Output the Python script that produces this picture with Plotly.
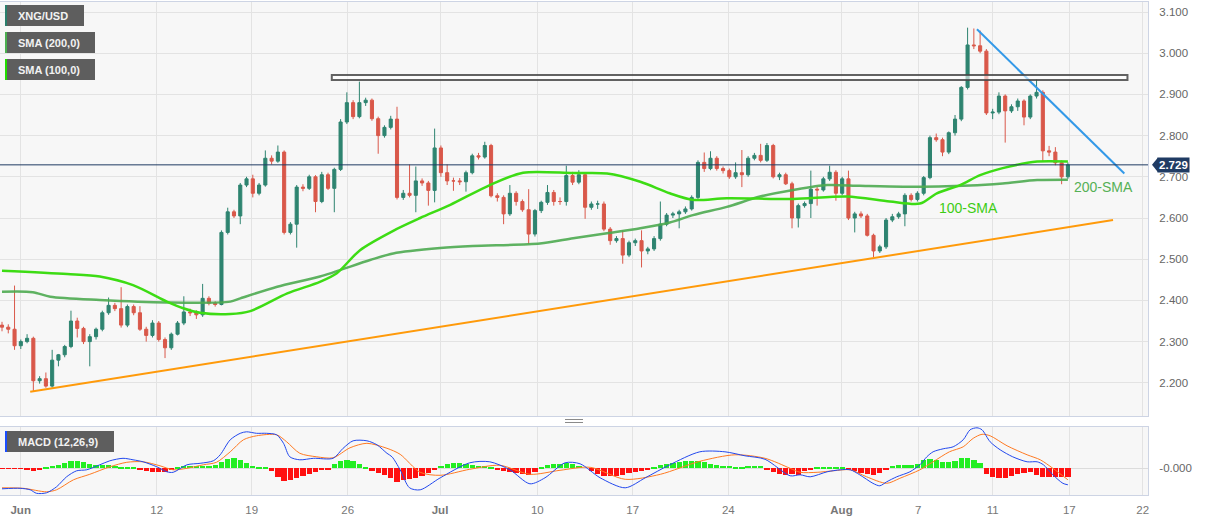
import plotly.graph_objects as go

# ---------------- data (index = candle number) ----------------
opens = [
    2.340, 2.335, 2.330, 2.290, 2.300, 2.308, 2.205, 2.210, 2.192, 2.255,
    2.268, 2.288, 2.350, 2.332, 2.300, 2.312, 2.330, 2.370, 2.388, 2.380,
    2.340, 2.385, 2.370, 2.330, 2.315, 2.345, 2.305, 2.285, 2.318, 2.345,
    2.372, 2.370, 2.365, 2.405, 2.393, 2.390, 2.565, 2.615, 2.605, 2.680,
    2.695, 2.660, 2.680, 2.745, 2.738, 2.760, 2.565, 2.585, 2.675, 2.672,
    2.700, 2.640, 2.705, 2.672, 2.718, 2.833, 2.880, 2.846, 2.880, 2.886,
    2.841, 2.800, 2.820, 2.840, 2.650, 2.660, 2.655, 2.690, 2.685, 2.667,
    2.770, 2.710, 2.690, 2.690, 2.688, 2.710, 2.751, 2.748, 2.776, 2.654,
    2.650, 2.610, 2.660, 2.640, 2.620, 2.561, 2.618, 2.638, 2.662, 2.640,
    2.640, 2.703, 2.687, 2.705, 2.626, 2.634, 2.634, 2.573, 2.545, 2.550,
    2.510, 2.540, 2.545, 2.520, 2.525, 2.550, 2.585, 2.607, 2.610, 2.615,
    2.622, 2.650, 2.735, 2.720, 2.745, 2.720, 2.715, 2.700, 2.710, 2.705,
    2.745, 2.752, 2.740, 2.776, 2.700, 2.705, 2.683, 2.600, 2.630, 2.635,
    2.670, 2.668, 2.695, 2.711, 2.660, 2.695, 2.600, 2.610, 2.605, 2.558,
    2.520, 2.530, 2.595, 2.603, 2.610, 2.655, 2.645, 2.660, 2.698, 2.795,
    2.790, 2.760, 2.807, 2.840, 2.917, 3.020, 3.018, 3.005, 2.855, 2.857,
    2.896, 2.860, 2.870, 2.884, 2.845, 2.896, 2.905, 2.763, 2.760, 2.734,
    2.700]
highs = [
    2.348, 2.342, 2.436, 2.305, 2.318, 2.312, 2.216, 2.225, 2.280, 2.270,
    2.292, 2.375, 2.358, 2.336, 2.318, 2.334, 2.375, 2.407, 2.394, 2.432,
    2.390, 2.390, 2.386, 2.336, 2.352, 2.350, 2.310, 2.322, 2.350, 2.410,
    2.380, 2.376, 2.440, 2.410, 2.398, 2.570, 2.625, 2.620, 2.685, 2.700,
    2.705, 2.685, 2.764, 2.752, 2.776, 2.764, 2.590, 2.680, 2.682, 2.705,
    2.704, 2.712, 2.710, 2.722, 2.840, 2.905, 2.886, 2.931, 2.892, 2.890,
    2.846, 2.825, 2.848, 2.870, 2.668, 2.730, 2.725, 2.696, 2.690, 2.817,
    2.776, 2.730, 2.698, 2.697, 2.715, 2.756, 2.758, 2.785, 2.780, 2.660,
    2.655, 2.680, 2.665, 2.645, 2.670, 2.622, 2.642, 2.680, 2.668, 2.650,
    2.727, 2.712, 2.716, 2.710, 2.640, 2.642, 2.640, 2.578, 2.556, 2.570,
    2.545, 2.550, 2.570, 2.530, 2.556, 2.640, 2.612, 2.615, 2.620, 2.628,
    2.655, 2.740, 2.759, 2.762, 2.750, 2.725, 2.720, 2.735, 2.765, 2.750,
    2.758, 2.780, 2.782, 2.780, 2.710, 2.710, 2.688, 2.635, 2.640, 2.715,
    2.675, 2.700, 2.727, 2.716, 2.700, 2.715, 2.615, 2.616, 2.610, 2.562,
    2.535, 2.600, 2.610, 2.615, 2.660, 2.660, 2.665, 2.702, 2.800, 2.805,
    2.795, 2.810, 2.850, 2.920, 3.062, 3.060, 3.055, 3.010, 2.865, 2.905,
    2.900, 2.876, 2.890, 2.888, 2.900, 2.937, 2.910, 2.775, 2.772, 2.740,
    2.735]
lows = [
    2.325, 2.320, 2.280, 2.282, 2.296, 2.178, 2.198, 2.188, 2.188, 2.240,
    2.262, 2.284, 2.310, 2.294, 2.240, 2.305, 2.325, 2.365, 2.374, 2.334,
    2.335, 2.364, 2.326, 2.300, 2.310, 2.300, 2.260, 2.280, 2.315, 2.340,
    2.362, 2.355, 2.360, 2.388, 2.385, 2.388, 2.560, 2.600, 2.585, 2.675,
    2.650, 2.655, 2.676, 2.730, 2.734, 2.560, 2.560, 2.528, 2.665, 2.668,
    2.614, 2.636, 2.668, 2.614, 2.714, 2.828, 2.840, 2.842, 2.872, 2.836,
    2.756, 2.795, 2.815, 2.645, 2.644, 2.650, 2.614, 2.678, 2.630, 2.638,
    2.700, 2.680, 2.666, 2.680, 2.664, 2.706, 2.742, 2.744, 2.650, 2.640,
    2.585, 2.605, 2.630, 2.615, 2.537, 2.555, 2.612, 2.632, 2.630, 2.632,
    2.630, 2.680, 2.682, 2.598, 2.620, 2.622, 2.568, 2.535, 2.540, 2.489,
    2.505, 2.532, 2.480, 2.512, 2.520, 2.545, 2.580, 2.600, 2.575, 2.610,
    2.618, 2.646, 2.712, 2.716, 2.715, 2.708, 2.695, 2.695, 2.675, 2.700,
    2.740, 2.735, 2.736, 2.696, 2.692, 2.680, 2.575, 2.577, 2.625, 2.600,
    2.630, 2.664, 2.690, 2.642, 2.655, 2.595, 2.565, 2.600, 2.555, 2.505,
    2.515, 2.525, 2.590, 2.598, 2.580, 2.640, 2.640, 2.655, 2.694, 2.785,
    2.750, 2.755, 2.800, 2.835, 2.912, 3.010, 3.000, 2.850, 2.840, 2.852,
    2.783, 2.855, 2.860, 2.825, 2.840, 2.890, 2.738, 2.750, 2.728, 2.682,
    2.695]
closes = [
    2.335, 2.330, 2.290, 2.300, 2.308, 2.205, 2.210, 2.192, 2.255, 2.268,
    2.288, 2.350, 2.332, 2.300, 2.312, 2.330, 2.370, 2.388, 2.380, 2.340,
    2.385, 2.370, 2.330, 2.315, 2.345, 2.305, 2.285, 2.318, 2.345, 2.372,
    2.370, 2.365, 2.405, 2.393, 2.390, 2.565, 2.615, 2.605, 2.680, 2.695,
    2.660, 2.680, 2.745, 2.738, 2.760, 2.565, 2.585, 2.675, 2.672, 2.700,
    2.640, 2.705, 2.672, 2.718, 2.833, 2.880, 2.846, 2.880, 2.886, 2.841,
    2.800, 2.820, 2.840, 2.650, 2.660, 2.655, 2.690, 2.685, 2.667, 2.770,
    2.710, 2.690, 2.690, 2.688, 2.710, 2.751, 2.748, 2.776, 2.654, 2.650,
    2.610, 2.660, 2.640, 2.620, 2.561, 2.618, 2.638, 2.662, 2.640, 2.640,
    2.703, 2.687, 2.705, 2.626, 2.634, 2.634, 2.573, 2.545, 2.550, 2.510,
    2.540, 2.545, 2.520, 2.525, 2.550, 2.585, 2.607, 2.610, 2.615, 2.622,
    2.650, 2.735, 2.720, 2.745, 2.720, 2.715, 2.700, 2.710, 2.705, 2.745,
    2.752, 2.740, 2.776, 2.700, 2.705, 2.683, 2.600, 2.630, 2.635, 2.670,
    2.668, 2.695, 2.711, 2.660, 2.695, 2.600, 2.610, 2.605, 2.558, 2.520,
    2.530, 2.595, 2.603, 2.610, 2.655, 2.645, 2.660, 2.698, 2.795, 2.790,
    2.760, 2.807, 2.840, 2.917, 3.020, 3.018, 3.005, 2.855, 2.857, 2.896,
    2.860, 2.870, 2.884, 2.845, 2.896, 2.905, 2.763, 2.760, 2.734, 2.700,
    2.729]
candle_idx = list(range(len(closes)))

sma100_x = [0, 10.4, 15.6, 20.9, 26.3, 28.9, 31.6, 36.4, 39.6, 45.5,
            50.7, 53.4, 57.1, 62.4, 66.7, 71.5, 77.8, 83.1, 91.1, 96.5,
            101.8, 106.5, 110.2, 115.6, 126.2, 134.8, 141.6, 146.4, 149.1, 152.8,
            156.0, 159.6, 165.1, 170]
sma100_v = [2.472, 2.464, 2.458, 2.437, 2.397, 2.381, 2.370, 2.367, 2.374, 2.417,
            2.445, 2.466, 2.522, 2.569, 2.600, 2.632, 2.680, 2.710, 2.709, 2.708,
            2.688, 2.660, 2.644, 2.648, 2.646, 2.652, 2.640, 2.635, 2.660, 2.680,
            2.704, 2.721, 2.737, 2.737]
sma200_x = [0, 4.9, 7.7, 15.6, 26.3, 36.4, 38.0, 43.9, 50.7, 58.7,
            62.4, 69.9, 75.1, 85.8, 91.1, 96.5, 101.8, 106.5, 110.2, 115.6,
            120.9, 126.2, 131.6, 136.8, 143.7, 154.4, 159.6, 165.1, 170]
sma200_v = [2.421, 2.420, 2.409, 2.401, 2.395, 2.397, 2.405, 2.433, 2.458, 2.498,
            2.514, 2.527, 2.532, 2.538, 2.551, 2.563, 2.575, 2.589, 2.607, 2.627,
            2.652, 2.668, 2.680, 2.678, 2.676, 2.679, 2.684, 2.692, 2.693]

support_x = [4.5, 177.2]
support_y = [2.178, 2.595]
resist_x = [155.5, 179.0]
resist_y = [3.058, 2.708]
zone_x = [52.6, 179.5]
zone_y = [2.935, 2.947]
last_price = 2.729

# MACD (values in 1e-3)
macd_x = [0, 2.9, 4.5, 5.5, 7.1, 8.7, 10.3, 11.9, 13.5, 15.6,
          17.2, 19.3, 20.9, 22.5, 24.7, 26.3, 27.3, 29.5, 31.6, 33.7,
          34.8, 36.4, 38, 39, 40.6, 42.2, 43.8, 44.9, 45.9, 47.5,
          49.7, 52.8, 54.4, 56, 58.2, 59.8, 61.4, 62.2, 63.5, 65,
          66.7, 69.9, 74.6, 77.8, 81, 84.2, 86.6, 89.8, 92.2, 95.4,
          99.4, 102.6, 106.5, 111.3, 115.3, 118.5, 121.7, 125.7, 127.3, 128.9,
          131.6, 133.7, 135.3, 136.8, 138.9, 140, 141.1, 142.7, 144.8, 146.4,
          147.5, 148.5, 150.1, 151.7, 153.3, 154.4, 155.5, 156.3, 157.6, 159.2,
          161.2, 163.5, 165.1, 166.1, 167.6, 169.2, 170]
macd_v = [-41, -40, -43, -50, -49, -37, -17, -5, -3, 7,
          15, 20, 17, 13, 3, -7, -8, 7, 10, 15,
          27, 57, 70, 73, 70, 70, 67, 50, 23, 17,
          20, 20, 40, 55, 55, 47, 30, 23, -3, -39,
          -43, -19, 11, 13, -3, -31, -19, 11, 9, -19,
          -39, -19, 7, 33, 33, 25, 18, -15, -13, -17,
          -7, -3, -3, -13, -30, -35, -27, -17, -7, 7,
          23, 33, 39, 43, 57, 77, 81, 77, 53, 37,
          23, 13, 13, 7, -13, -30, -33]
signal_x = [0, 3.4, 7.1, 8.7, 11.4, 14, 17.2, 19.9, 22.5, 25.2,
            27.3, 29.5, 32.1, 34.2, 36.4, 38.5, 40.6, 43.8, 45.4, 47.5,
            50.2, 52.8, 55.5, 58.2, 61.4, 63.5, 66.7, 69.9, 74.6, 79.4,
            84.2, 89, 93.8, 99.4, 105, 111.3, 116.9, 121.7, 125.7, 127.3,
            130, 132.6, 135.3, 137.9, 141.1, 143.2, 146.4, 148.5, 151.1, 153.3,
            154.9, 156.3, 157.6, 160.3, 163.5, 165.6, 167.6, 170]
signal_v = [-39, -40, -47, -43, -23, -12, 3, 12, 13, 5,
            -3, 0, 7, 12, 33, 57, 65, 67, 53, 30,
            23, 21, 41, 50, 40, 28, -8, -14, -2, 6,
            -12, -4, 2, -22, -12, 14, 27, 20, 0, -8,
            -8, -5, -3, -17, -30, -20, -3, 13, 33, 43,
            60, 68, 65, 45, 27, 17, 0, -23]
hist = [
    -1, -1, -1, -1, -4, -5, -4, 2, 5, 7,
    10, 14, 15, 12, 8, 7, 6, 6, 5, 3,
    2, 1, -2, -5, -7, -8, -7, -3, 3, 5,
    5, 5, 4, 5, 6, 12, 19, 21, 17, 10,
    4, 3, 2, -5, -18, -25, -24, -20, -15, -12,
    -8, -4, -2, 8, 15, 17, 14, 8, 3, -5,
    -10, -14, -20, -27, -24, -22, -20, -15, -10, -3,
    4, 8, 10, 10, 9, 7, 5, 4, 2, -2,
    -6, -8, -10, -12, -13, -8, 2, 7, 9, 9,
    10, 8, 5, 0, -6, -12, -15, -16, -15, -13,
    -10, -7, -5, -2, 3, 6, 8, 10, 12, 14,
    15, 14, 12, 9, 7, 5, 4, 3, 3, 4,
    5, 4, -2, -8, -12, -13, -12, -13, -5, -2,
    1, 2, 3, 3, 2, -2, -6, -10, -12, -13,
    -10, -4, 5, 6, 7, 7, 8, 17, 19, 16,
    13, 12, 14, 20, 21, 17, 10, -12, -18, -20,
    -19, -15, -12, -9, -8, -14, -17, -18, -18, -18,
    -18]

tick_pos = [2.98, 24.67, 39.82, 55.14, 69.86, 85.38, 100.59, 115.84, 133.89, 146.14, 158.0, 170.22, 181.93]
tick_lbl = ["Jun", "12", "19", "26", "Jul", "10", "17", "24", "Aug", "7", "11", "17", "22"]
price_ticks = [2.2, 2.3, 2.4, 2.5, 2.6, 2.7, 2.8, 2.9, 3.0, 3.1]

# ---------------- layout helpers ----------------
W, H = 1207, 521
PL, PR, PT, PB = 0, 1148, 2, 495
def px(x):
    return (x - PL) / (PR - PL)
def py(y):
    return (PB - y) / (PB - PT)

FONT = "Arial, Liberation Sans, sans-serif"
GRID = "#e3e3e3"
BORDER = "#cdd4e4"

fig = go.Figure()

fig.add_trace(go.Candlestick(
    x=candle_idx, open=opens, high=highs, low=lows, close=closes,
    increasing=dict(line=dict(color="#2e8470", width=1), fillcolor="#2e8470"),
    decreasing=dict(line=dict(color="#d9584a", width=1), fillcolor="#d9584a"),
    whiskerwidth=0, showlegend=False, xaxis="x", yaxis="y"))

fig.add_trace(go.Scatter(x=sma200_x, y=sma200_v, mode="lines",
                         line=dict(color="rgba(76,170,80,0.9)", width=2.5, shape="spline", smoothing=0.8),
                         showlegend=False, xaxis="x", yaxis="y"))
fig.add_trace(go.Scatter(x=sma100_x, y=sma100_v, mode="lines",
                         line=dict(color="#3ddc14", width=2.5, shape="spline", smoothing=0.8),
                         showlegend=False, xaxis="x", yaxis="y"))
fig.add_trace(go.Scatter(x=support_x, y=support_y, mode="lines",
                         line=dict(color="#ff9a0a", width=2), showlegend=False, xaxis="x", yaxis="y"))
fig.add_trace(go.Scatter(x=resist_x, y=resist_y, mode="lines",
                         line=dict(color="#3399e8", width=2), showlegend=False, xaxis="x", yaxis="y"))

# MACD panel
fig.add_trace(go.Bar(x=candle_idx, y=hist,
                     marker=dict(color=["#22ee22" if v >= 0 else "#ff1010" for v in hist], line=dict(width=0)),
                     width=0.85, showlegend=False, xaxis="x2", yaxis="y2"))
fig.add_trace(go.Scatter(x=signal_x, y=signal_v, mode="lines",
                         line=dict(color="#ff7a22", width=1, shape="spline", smoothing=0.8),
                         showlegend=False, xaxis="x2", yaxis="y2"))
fig.add_trace(go.Scatter(x=macd_x, y=macd_v, mode="lines",
                         line=dict(color="#2248ee", width=1, shape="spline", smoothing=0.8),
                         showlegend=False, xaxis="x2", yaxis="y2"))

xr = [(PL - 2) / 6.27, (PR - 2) / 6.27]
main_dom = [py(416), 1.0]
macd_dom = [0.0, py(427)]
y_top = 3.1 + (12 - PT) / 412.0
y_bot = 3.1 - (416 - 12) / 412.0

fig.update_layout(
    width=W, height=H,
    margin=dict(l=PL, r=W - PR, t=PT, b=H - PB, pad=0, autoexpand=False),
    paper_bgcolor="white", plot_bgcolor="#f7f7f7",
    font=dict(family=FONT, size=11, color="#666"),
    bargap=0, hovermode=False,
    xaxis=dict(domain=[0, 1], range=xr, anchor="y", tickvals=tick_pos, showticklabels=False,
               showgrid=True, gridcolor=GRID, zeroline=False, showline=True, mirror=True,
               linecolor=BORDER, linewidth=1, rangeslider=dict(visible=False), ticks=""),
    yaxis=dict(domain=main_dom, range=[y_bot, y_top], side="right", anchor="x",
               tickvals=price_ticks, ticktext=["%.3f" % v for v in price_ticks],
               showgrid=True, gridcolor=GRID, zeroline=False, showline=True, mirror=True,
               linecolor=BORDER, linewidth=1, ticks="", ticklabelstandoff=8,
               tickfont=dict(size=11.5, color="#666")),
    xaxis2=dict(domain=[0, 1], range=xr, anchor="y2", matches="x", tickvals=tick_pos,
                ticktext=[("<b>%s</b>" % t) if t in ("Jun", "Jul", "Aug") else t for t in tick_lbl],
                showgrid=True, gridcolor=GRID, zeroline=False, showline=True, mirror=True,
                linecolor=BORDER, linewidth=1, ticks="", ticklabelstandoff=4,
                tickfont=dict(size=11.5, color="#777")),
    yaxis2=dict(domain=macd_dom, range=[-53.4, 82.6], side="right", anchor="x2",
                tickvals=[0], ticktext=["-0.000"], showgrid=True, gridcolor="#dcdcdc",
                zeroline=False, showline=True, mirror=True, linecolor=BORDER, linewidth=1,
                ticks="", ticklabelstandoff=8, tickfont=dict(size=11.5, color="#666")),
)

shapes = []
shapes.append(dict(type="rect", xref="x", yref="y", x0=zone_x[0], x1=zone_x[1], y0=zone_y[0], y1=zone_y[1],
                   line=dict(color="rgba(70,70,70,0.85)", width=2), fillcolor="rgba(255,255,255,0.6)", layer="above"))
shapes.append(dict(type="line", xref="paper", yref="y", x0=0, x1=1, y0=last_price, y1=last_price,
                   line=dict(color="#1f3b63", width=1), layer="above"))
yp = last_price
shapes.append(dict(type="path", xref="paper", yref="y",
                   path="M %f,%f L %f,%f L %f,%f Z" % (px(1152), yp, px(1158), yp + 0.018, px(1158), yp - 0.018),
                   fillcolor="#1f3b63", line=dict(width=0), layer="above"))
boxes = [(5, 84, 5, 26, "#2a7f6c"), (5, 95, 32, 53, "#4caf50"), (5, 95, 59, 80, "#22dd00"), (5, 114, 431, 452, "#1a4dff")]
for x0, x1, y0, y1, c in boxes:
    shapes.append(dict(type="rect", xref="paper", yref="paper", x0=px(x0), x1=px(x1), y0=py(y1), y1=py(y0),
                       fillcolor="#5e5e5e", line=dict(width=0), layer="above"))
    shapes.append(dict(type="rect", xref="paper", yref="paper", x0=px(x0), x1=px(x0 + 2), y0=py(y1), y1=py(y0),
                       fillcolor=c, line=dict(width=0), layer="above"))
for yy in (419.5, 422.5):
    shapes.append(dict(type="line", xref="paper", yref="paper", x0=px(565), x1=px(583), y0=py(yy), y1=py(yy),
                       line=dict(color="#8a8a8a", width=1)))
fig.update_layout(shapes=shapes)

ann = []
for txt, yc in (("XNG/USD", 15.5), ("SMA (200,0)", 42.5), ("SMA (100,0)", 69.5), ("MACD (12,26,9)", 441.5)):
    ann.append(dict(xref="paper", yref="paper", x=px(16), y=py(yc), text="<b>%s</b>" % txt, showarrow=False,
                    xanchor="left", yanchor="middle", font=dict(family=FONT, size=11, color="#f2f2f2")))
ann.append(dict(xref="paper", yref="y", x=px(1157), y=last_price, text="<b>%.3f</b>" % last_price, showarrow=False,
                xanchor="left", yanchor="middle", bgcolor="#1f3b63", borderpad=1,
                font=dict(family=FONT, size=11.5, color="white")))
ann.append(dict(xref="paper", yref="paper", x=px(1072), y=py(187), text="200-SMA", showarrow=False,
                xanchor="left", yanchor="middle", font=dict(family=FONT, size=14, color="#55b055")))
ann.append(dict(xref="paper", yref="paper", x=px(937), y=py(208), text="100-SMA", showarrow=False,
                xanchor="left", yanchor="middle", font=dict(family=FONT, size=14, color="#3dcc14")))
fig.update_layout(annotations=ann)

fig.write_html("out.html", config={"displayModeBar": False},
               post_script="document.body.style.margin='0px';document.body.style.padding='0px';")
